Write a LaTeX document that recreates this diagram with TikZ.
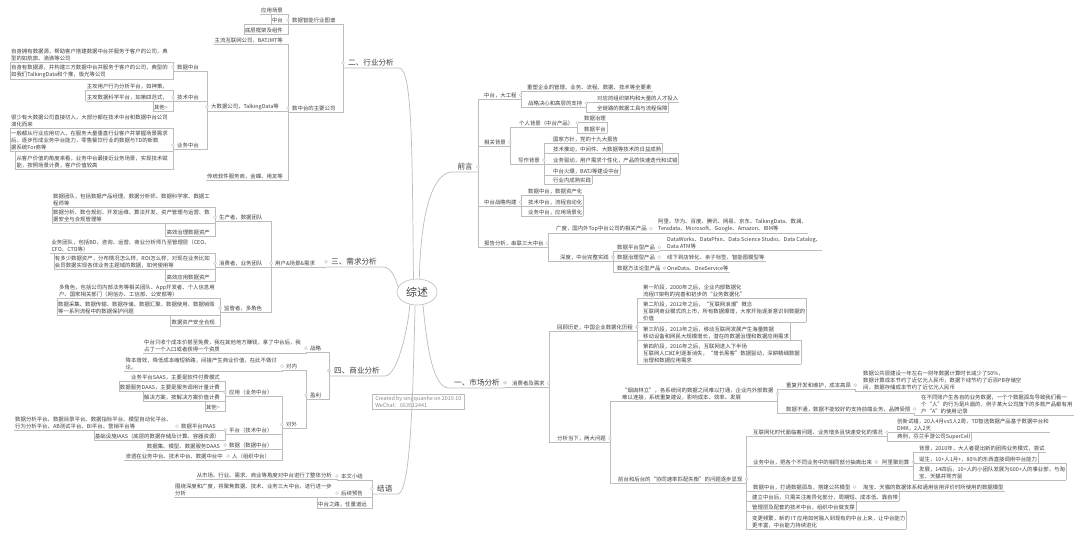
\documentclass[tikz,border=0pt]{standalone}
\usepackage{fontspec}
\setmainfont{Noto Sans CJK SC}
\usetikzlibrary{shapes.geometric}
\definecolor{lc}{HTML}{BDBDBD}
\definecolor{tc}{HTML}{404040}
\definecolor{gc}{HTML}{8A8A8A}
\newcommand\smallf{\fontsize{5.4}{7}\selectfont}
\newcommand\branchf{\fontsize{7.6}{9}\selectfont}
\tikzset{
  ln/.style={draw=lc, line width=0.5pt},
  bln/.style={draw=lc, line width=0.7pt},
  lf/.style={font=\smallf, text=tc, inner xsep=1pt, inner ysep=1.2pt, align=left},
  pa/.style={font=\smallf, text=tc, inner xsep=4pt, inner ysep=1.2pt, align=left},
  br/.style={font=\branchf, text=tc, inner xsep=5pt, inner ysep=1.5pt},
  bul/.style={draw=lc, fill=white, line width=0.4pt},
}
\begin{document}
\begin{tikzpicture}[x=1pt,y=-1pt]
\useasboundingbox (0,0) rectangle (1080,535);
\fill[white] (0,0) rectangle (1080,535);

% centre
\node[ellipse, draw=lc, line width=0.6pt, minimum width=40pt, minimum height=26pt,
  font=\fontsize{11}{13}\selectfont, text=tc, inner sep=0pt] (c) at (417,292) {综述};

% ===== 二、行业分析 =====
\node[br, anchor=south west] (s2) at (343,68) {二、行业分析};
\node[pa, anchor=south west] (a1) at (288,24) {数据智能行业图谱};
\node[pa, anchor=south west] (a2) at (288,112) {数中台的主要公司};
\node[lf, anchor=south east] (a11) at (284,14) {应用场景};
\node[lf, anchor=south east] (a12) at (284,24) {中台};
\node[lf, anchor=south east] (a13) at (284,34) {底层框架及组件};
\node[lf, anchor=south east] (a21) at (284,44) {主流互联网公司，BATJMT等};
\node[pa, anchor=south west] (a22) at (207,111) {大数据公司，TalkingData等};
\node[lf, anchor=south east] (a23) at (284,180) {传统软件服务商，金蝶、用友等};
\node[pa, anchor=south west] (b1) at (173,71) {数据中台};
\node[pa, anchor=south west] (b2) at (173,101) {技术中台};
\node[pa, anchor=south west] (b3) at (173,149) {业务中台};
\node[lf, anchor=south east] (b11) at (169,62) {自身拥有数据源，帮助客户搭建数据中台并服务于客户的公司，典\\型的如航旅、滴滴等公司};
\node[lf, anchor=south east] (b12) at (169,79) {自身有数据源，并构建三方数据中台并服务于客户的公司，典型的\\如我们TalkingData和个推，极光等公司};
\node[lf, anchor=south east] (b21) at (169,90) {主攻用户行为分析平台，如神策，};
\node[lf, anchor=south east] (b22) at (169,101) {主攻数据科学平台，如第四范式，};
\node[lf, anchor=south east] (b23) at (169,111) {其他{\char"7E}};
\node[lf, anchor=south east] (b31) at (169,128) {很少有大数据公司直接切入，大部分都在技术中台和数据中台公司\\演化而来};
\node[lf, anchor=south east] (b32) at (169,151) {一般都从行业应用切入，在服务大量垂直行业客户并掌握场景需求\\后，逐步形成业务中台能力，零售餐饮行业的数据与TD的新数\\据系统For商等};
\node[lf, anchor=south east] (b33) at (169,169) {从客户价值的角度来看，业务中台最接近业务场景，实现技术赋\\能，按照场景计费，客户价值较高};

% ===== 三、需求分析 =====
\node[br, anchor=south west] (s3) at (326,267) {三、需求分析};
\node[pa, anchor=south west] (d0) at (271,267) {用户\&场景\&需求};
\node[pa, anchor=south west] (d1) at (215,221) {生产者，数据团队};
\node[pa, anchor=south west] (d2) at (215,267) {消费者，业务团队};
\node[pa, anchor=south west] (d3) at (220,312) {监管者，多角色};
\node[lf, anchor=south east] (d11) at (211,207) {数据团队，包括数据产品经理、数据分析师、数据科学家、数据工\\程师等};
\node[lf, anchor=south east] (d12) at (211,223) {数据分析、数仓规划、开发运维、算法开发、资产管理与运营、数\\据安全与合规管理等};
\node[lf, anchor=south east] (d13) at (211,236) {高效治理数据资产};
\node[lf, anchor=south east] (d21) at (211,253) {业务团队，包括BD、咨询、运营、商业分析师乃至管理层（CEO、\\CFO、CTO等）};
\node[lf, anchor=south east] (d22) at (211,269) {有多少数据资产，分布情况怎么样，ROI怎么样，对现在业务比如\\会员数据实现各体业务主题域的数据，如何使用等};
\node[lf, anchor=south east] (d23) at (211,281) {高效应用数据资产};
\node[lf, anchor=south east] (d31) at (216,298) {多角色，包括公司内部法务等相关团队、App开发者、个人信息用\\户、国家相关部门（网信办、工信部、公安部等）};
\node[lf, anchor=south east] (d32) at (216,315) {数据采集、数据传输、数据存储、数据汇聚、数据使用、数据销毁\\等一系列流程中的数据保护问题};
\node[lf, anchor=south east] (d33) at (216,326) {数据资产安全合规};

% ===== 四、商业分析 =====
\node[br, anchor=south west] (s4) at (329,376) {四、商业分析};
\node[pa, anchor=south west] (e1) at (306,352) {战略};
\node[pa, anchor=south west] (e2) at (306,399) {盈利};
\node[lf, anchor=south east] (e11) at (302,353) {中台只收个成本价甚至免费，我在其他地方赚钱，拿了中台后，我\\占了一个入口或者获得一个资质};
\node[pa, anchor=south west] (e21) at (282,370) {对内};
\node[pa, anchor=south west] (e22) at (282,428) {对外};
\node[lf, anchor=south east] (e211) at (278,371) {降本增效，降低成本缩短新路，间接产生商业价值，在此不做讨\\论。};
\node[pa, anchor=south west] (f1) at (225,396) {应用（业务中台）};
\node[pa, anchor=south west] (f2) at (225,434) {平台（技术中台）};
\node[pa, anchor=south west] (f3) at (225,449) {数据（数据中台）};
\node[pa, anchor=south west] (f4) at (228,460) {人（组织中台）};
\node[lf, anchor=south east] (f11) at (221,381) {业务平台SAAS，主要是软件付费模式};
\node[lf, anchor=south east] (f12) at (221,391) {数据服务DAAS，主要是服务调用计量计费};
\node[lf, anchor=south east] (f13) at (221,401) {解决方案，按解决方案价值计费};
\node[lf, anchor=south east] (f14) at (221,411) {其他{\char"7E}};
\node[pa, anchor=south west] (g1) at (177,430) {数据平台PAAS};
\node[lf, anchor=south east] (f22) at (221,440) {基础设施IAAS（底层的数据存储及计算、容器资源）};
\node[lf, anchor=south east] (g11) at (173,430) {数据分析平台、数据目录平台、数据指标平台、模型自动化平台、\\行为分析平台、AB测试平台、BI平台、营销平台等};
\node[lf, anchor=south east] (f31) at (221,450) {数据集、模型、数据服务DAAS};
\node[lf, anchor=south east] (f41) at (224,460) {渗透在业务中台、技术中台、数据中台中};

% ===== 结语 =====
\node[br, anchor=south west] (s5) at (372,494) {结语};
\node[pa, anchor=south west] (h1) at (337,480) {本文小结};
\node[pa, anchor=south west] (h2) at (337,497) {后续预告};
\node[lf, anchor=south east] (h3) at (368,508) {中台之路，任重道远};
\node[lf, anchor=south east] (h11) at (333,479) {从市场、行业、需求、商业等角度对中台进行了整体分析};
\node[lf, anchor=south east] (h21) at (333,497) {围绕深度和广度，将聚焦数据、技术、业务三大中台，进行进一步\\分析};

% ===== 前言 =====
\node[br, anchor=south east] (s1) at (478,172) {前言};
\node[pa, anchor=south west] (q1) at (480,99) {中台，大工程};
\node[pa, anchor=south west] (q2) at (480,146) {相关背景};
\node[pa, anchor=south west] (q3) at (480,206) {中台战略构建};
\node[pa, anchor=south west] (q4) at (480,247) {报告分析，串联三大中台};
\node[lf, anchor=south west] (q11) at (526,91) {重塑企业的管理、业务、流程、数据、技术等全要素};
\node[pa, anchor=south west] (q12) at (524,107) {战略决心和高层的支持};
\node[lf, anchor=south west] (q121) at (596,102) {对应的组织架构和大量的人才投入};
\node[lf, anchor=south west] (q122) at (596,112) {全链路的数据工具与流程保障};
\node[pa, anchor=south west] (q21) at (515,127) {个人背景（中台产品）};
\node[pa, anchor=south west] (q22) at (514,164) {写作背景};
\node[lf, anchor=south west] (q211) at (583,122) {数据治理};
\node[lf, anchor=south west] (q212) at (583,133) {数据平台};
\node[lf, anchor=south west] (q221) at (552,143) {国家方针，党的十九大报告};
\node[lf, anchor=south west] (q222) at (552,153) {技术推动，中间件、大数据等技术的日益成熟};
\node[lf, anchor=south west] (q223) at (552,164) {业务驱动，用户需求个性化，产品的快速迭代和试错};
\node[lf, anchor=south west] (q224) at (552,175) {中台火爆，BATJ等建设中台};
\node[lf, anchor=south west] (q225) at (552,184) {行业内成熟实践};
\node[lf, anchor=south west] (q31) at (527,195) {数据中台，数据资产化};
\node[lf, anchor=south west] (q32) at (527,206) {技术中台，流程自动化};
\node[lf, anchor=south west] (q33) at (527,216) {业务中台，应用场景化};
\node[pa, anchor=south west] (q41) at (552,233) {广度，国内外Top中台公司的相关产品};
\node[lf, anchor=south west] (q411) at (657,233) {阿里、华为、百度、腾讯、网易、京东、TalkingData、数澜、\\Teradata、Microsoft、Google、Amazon、IBM等};
\node[pa, anchor=south west] (q42) at (556,261) {深度，中台完整实践};
\node[pa, anchor=south west] (q421) at (613,251) {数据平台型产品};
\node[pa, anchor=south west] (q422) at (613,261) {数据治理型产品};
\node[pa, anchor=south west] (q423) at (613,272) {数据方法论型产品};
\node[lf, anchor=south west] (q4211) at (666,250) {DataWorks、DataPhin、Data Science Studio、Data Catalog、\\Data ATM等};
\node[lf, anchor=south west] (q4221) at (666,261) {线下到店转化、亲子标签、智能图模型等};
\node[lf, anchor=south west] (q4231) at (666,272) {OneData、OneService等};

% ===== 一、市场分析 =====
\node[br, anchor=south east] (s6) at (505,388) {一、市场分析};
\node[pa, anchor=south west] (r1) at (508,387) {消费者及需求};
\node[pa, anchor=south west] (r2) at (553,331) {回顾历史，中国企业数据化历程};
\node[pa, anchor=south west] (r3) at (553,442) {分析当下，两大问题};
\node[lf, anchor=south west] (r21) at (642,298) {第一阶段，2000年之后，企业内部数据化\\流程IT架构的完善和初步的“业务数据化”};
\node[lf, anchor=south west] (r22) at (642,322) {第二阶段，2012年之后，“互联网浪潮”概念\\互联网商业模式的上市，所有数据爆增，大家开始逐渐意识到数据的\\价值};
\node[lf, anchor=south west] (r23) at (642,340) {第三阶段，2013年之后，移动互联网发展产生海量数据\\移动设备和网民大规模增长，潜在的数据治理和数据应用需求};
\node[lf, anchor=south west] (r24) at (642,364) {第四阶段，2016年之后，互联网进入下半场\\互联网人口红利逐渐消失，“增长黑客”数据驱动，深耕精细数据\\治理和数据应用需求};
\node[pa, anchor=south west] (r31) at (618,401) {“烟囱林立”，各系统间的数据之间难以打通，企业内外部数据\\难以连接，系统重复建设，影响成本、效率、发展};
\node[pa, anchor=south west] (r32) at (614,483) {前台和后台的“协同速率匹配失衡”的问题逐步显现};
\node[pa, anchor=south west] (r311) at (782,389) {重复开发和维护，成本高昂};
\node[pa, anchor=south west] (r312) at (782,413) {数据不通，数据不能较好的支持前端业务，品牌受限};
\node[lf, anchor=south west] (r3111) at (862,391) {数据公共层建设一年左右一财年数据计算时长减少了50\%，\\数据计算成本节约了近亿元人民币，数据下线节约了近百PB存储空\\间，数据存储成本节约了近亿元人民币};
\node[lf, anchor=south west] (r3121) at (920,415) {在不同账户生各自的业务数据，一个个数据孤岛导致我们看一\\个“人”的行为是片面的，例子某大公司旗下的多款产品都有用\\户“A”的使用记录};
\node[pa, anchor=south west] (r321) at (749,436) {互联网化时代面临着问题、业务增多且快速变化的情况};
\node[lf, anchor=south west] (r3211) at (896,432) {创新试错，20人4月vs5人2周，TD智选数据产品基于数据中台和\\DMK，2人2天};
\node[lf, anchor=south west] (r3212) at (896,441) {典例，芬兰手游公司SuperCell};
\node[pa, anchor=south west] (r322) at (749,466) {业务中台，把各个不同业务中的相同部分抽离出来};
\node[pa, anchor=south west] (r3221) at (878,466) {阿里聚划算};
\node[lf, anchor=south west] (r32211) at (918,452) {背景，2010年，大人者提出新的团购业务模式，尝试};
\node[lf, anchor=south west] (r32212) at (918,463) {诞生，10+人1月+，80\%的东西直接调用中台能力};
\node[lf, anchor=south west] (r32213) at (918,480) {发展，14四后，10+人的小团队发展为600+人的事业部，与淘\\宝、天猫并驾齐驱};
\node[pa, anchor=south west] (r323) at (749,491) {数据中台，打通数据孤岛，搭建公共模型};
\node[lf, anchor=south west] (r3231) at (862,491) {淘宝、天猫的数据体系和通用信用评价时所使用的数据模型};
\node[lf, anchor=south west] (r324) at (751,501) {建立中台后，只需关注差异化部分，周期短、成本低、靠自带};
\node[lf, anchor=south west] (r325) at (751,511) {管理层及配套的技术中台，组织中台做支撑};
\node[lf, anchor=south west] (r326) at (751,529) {变更频繁，新的 IT 应用如何融入到现有的中台上来，让中台能力\\更丰富，中台能力持续进化};

% credit box
\node[draw=lc, line width=0.5pt, font=\smallf, text=gc, align=left, inner xsep=3pt, inner ysep=2pt, anchor=north west] (cb) at (372,394) {Created by singquanhe on 2019.10\\WeChat：663512441};

% ===== connectors: left trees (child -| parent) =====
\foreach \c/\p in {a1/s2,a2/s2,a11/a1,a12/a1,a13/a1,a21/a2,a22/a2,a23/a2,
  b1/a22,b2/a22,b3/a22,b11/b1,b12/b1,b21/b2,b22/b2,b23/b2,b31/b3,b32/b3,b33/b3,
  d0/s3,d1/d0,d2/d0,d3/d0,d11/d1,d12/d1,d13/d1,d21/d2,d22/d2,d23/d2,d31/d3,d32/d3,d33/d3,
  e1/s4,e2/s4,e11/e1,e21/e2,e22/e2,e211/e21,f1/e22,f2/e22,f3/e22,f4/e22,
  f11/f1,f12/f1,f13/f1,f14/f1,g1/f2,f22/f2,g11/g1,f31/f3,f41/f4,
  h1/s5,h2/s5,h3/s5,h11/h1,h21/h2}
  \draw[ln] (\c.south west) -| (\p.south west);
% sibling frames on the far (left) end
\foreach \pr/\c in {a11/a12,a12/a13,b11/b12,b21/b22,b22/b23,b31/b32,b32/b33,
  d11/d12,d12/d13,d21/d22,d22/d23,d31/d32,d32/d33,
  f11/f12,f12/f13,f13/f14,g1/f22,h2/h3}
  \draw[ln] (\c.south west) |- (\pr.south east);

% ===== connectors: right trees (parent |- child) =====
\foreach \p/\c in {s1/q1,s1/q2,s1/q3,s1/q4,q1/q11,q1/q12,q12/q121,q12/q122,
  q2/q21,q2/q22,q21/q211,q21/q212,q22/q221,q22/q222,q22/q223,q22/q224,q22/q225,
  q3/q31,q3/q32,q3/q33,q4/q41,q4/q42,q41/q411,q42/q421,q42/q422,q42/q423,
  q421/q4211,q422/q4221,q423/q4231,
  s6/r1,r1/r2,r1/r3,r2/r21,r2/r22,r2/r23,r2/r24,r3/r31,r3/r32,
  r31/r311,r31/r312,r311/r3111,r312/r3121,
  r32/r321,r32/r322,r32/r323,r32/r324,r32/r325,r32/r326,
  r321/r3211,r321/r3212,r322/r3221,r3221/r32211,r3221/r32212,r3221/r32213,r323/r3231}
  \draw[ln] (\p.south east) |- (\c.south east);
% sibling frames on the far (right) end
\foreach \pr/\c in {q121/q122,q211/q212,q221/q222,q222/q223,q223/q224,q224/q225,
  q31/q32,q32/q33,r21/r22,r22/r23,r23/r24,r3211/r3212,
  r32211/r32212,r32212/r32213,r323/r324,r324/r325,r325/r326}
  \draw[ln] (\c.south east) |- (\pr.south west);

% ===== main branches from the centre =====
\draw[bln] (s2.south west) -- (s2.south east) .. controls +(14,0) and (412,160) .. (c.105);
\draw[bln] (s1.south east) -- (s1.south west) .. controls +(-16,0) and (421,200) .. (c.80);
\draw[bln] (s3.south west) -- (s3.south east) .. controls +(10,0) and (395,278) .. (c.165);
\draw[bln] (s4.south west) -- (s4.south east) .. controls +(12,0) and (408,330) .. (c.240);
\draw[bln] (s5.south west) -- (s5.south east) .. controls +(14,0) and (413,380) .. (c.262);
\draw[bln] (s6.south east) -- (s6.south west) .. controls +(-18,0) and (426,335) .. (c.295);

% ===== bullets =====
\foreach \n in {s2,s3,s4,s5,a1,a2,a22,b1,b2,b3,d0,d1,d2,d3,e1,e2,e21,e22,f1,f2,f3,f4,g1,h1,h2}
  \draw[bul] (\n.west) circle (1.5pt);
\foreach \n in {s1,s6,q1,q2,q3,q4,q12,q21,q22,q41,q42,q421,q422,q423,r1,r2,r3,r31,r32,r311,r312,r321,r322,r3221,r323}
  \draw[bul] (\n.east) circle (1.5pt);
\end{tikzpicture}
\end{document}
